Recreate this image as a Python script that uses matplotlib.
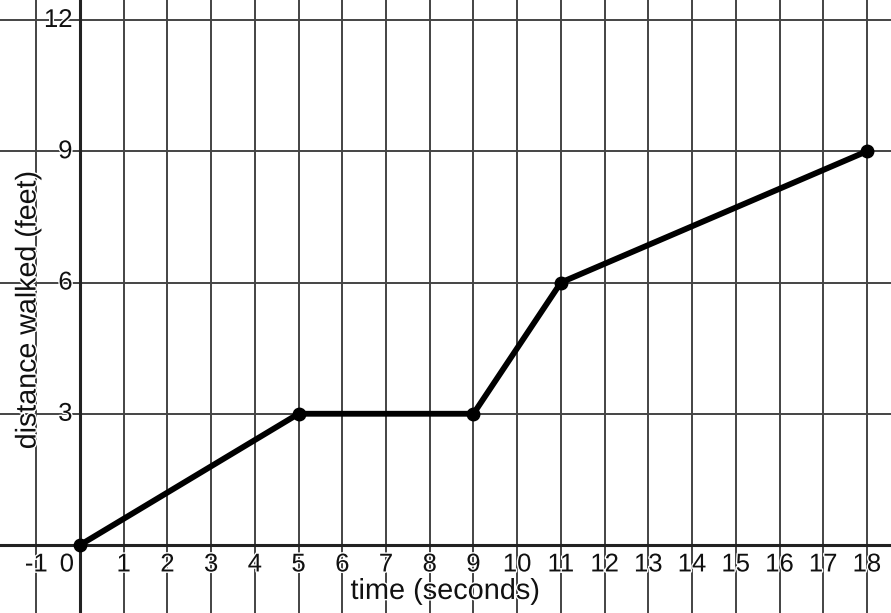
import matplotlib
matplotlib.use("Agg")
import matplotlib.pyplot as plt
import matplotlib.patheffects as pe

# walk data
times = [0, 5, 9, 11, 18]
distance = [0, 3, 3, 6, 9]

x_ticks = list(range(-1, 19))
y_ticks = [3, 6, 9, 12]
x_label = "time (seconds)"
y_label = "distance walked (feet)"

plt.rcParams['font.family'] = ['Liberation Sans', 'DejaVu Sans']

fig = plt.figure(figsize=(8.91, 6.13), dpi=100)
ax = fig.add_axes([0, 0, 1, 1])
ax.set_xlim(-1.83, 18.55)
ax.set_ylim(-1.554, 12.457)
ax.axis('off')

halo = [pe.withStroke(linewidth=2, foreground='white')]

# grid
for x in x_ticks:
    if x != 0:
        ax.axvline(x, color='#111111', lw=1.1, zorder=1)
for y in y_ticks:
    ax.axhline(y, color='#444444', lw=1.4, zorder=1)

# axes
ax.axvline(0, color='#222222', lw=2.2, zorder=2)
ax.axhline(0, color='#222222', lw=2.2, zorder=2)

# tick labels
for x in x_ticks:
    xpos = -0.3 if x == 0 else x
    ax.text(xpos, -0.17, str(x), ha='center', va='top', fontsize=18.5,
            color='#111111', path_effects=halo, zorder=3)
for y in y_ticks:
    ax.text(-0.17, y, str(y), ha='right', va='center', fontsize=18.5,
            color='#111111', path_effects=halo, zorder=3)

ax.text(8.35, -1.05, x_label, ha='center', va='center', fontsize=20.8,
        color='#111111', path_effects=halo, zorder=3)
ax.text(-1.2, 5.37, y_label, ha='center', va='center', rotation=90,
        fontsize=20.6, color='#111111', path_effects=halo, zorder=3)

# the walk
ax.plot(times, distance, color='black', lw=4.2, solid_capstyle='round',
        marker='o', markersize=9, zorder=4)

fig.savefig("out.png", dpi=100)
